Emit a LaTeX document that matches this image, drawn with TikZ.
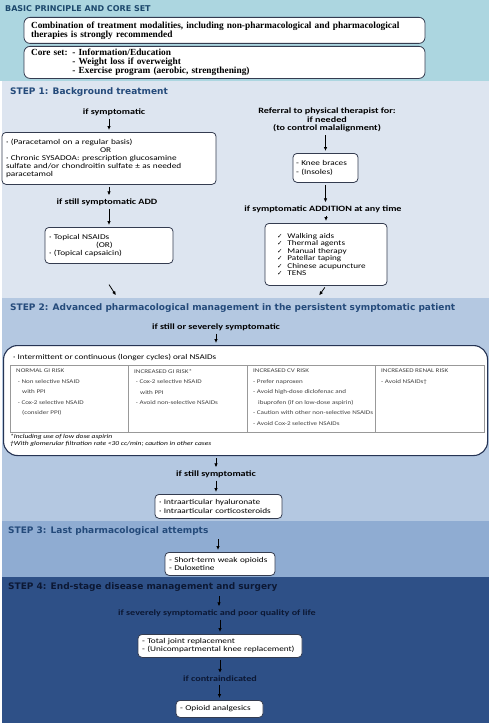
\documentclass[tikz,border=0pt]{standalone}
\usepackage{fontspec}
\setmainfont{Carlito}[FakeStretch=1.25]
\newfontfamily\headfont{DejaVu Sans}
\newfontfamily\leadfont{Liberation Serif}
\newfontfamily\symfont{DejaVu Sans}
\usepackage{xcolor}
\usetikzlibrary{arrows.meta, positioning, calc}

\definecolor{coreband}{RGB}{172,214,224}
\definecolor{oneband}{RGB}{221,229,240}
\definecolor{twoband}{RGB}{180,200,225}
\definecolor{threeband}{RGB}{143,172,210}
\definecolor{fourband}{RGB}{46,80,135}
\definecolor{coretext}{RGB}{28,72,108}
\definecolor{stepblue}{RGB}{36,74,122}
\definecolor{navy}{RGB}{12,24,52}
\definecolor{edge}{RGB}{52,60,80}
\definecolor{frame}{RGB}{38,52,84}

\newcommand{\chk}{\hspace*{8pt}{\symfont\fontsize{6.5}{7}\selectfont ✓}\hspace{5pt}}

\begin{document}
\begin{tikzpicture}[
  x=1pt, y=-1pt,
  box/.style   = {draw=edge, line width=0.8pt, rounded corners=4pt, fill=white,
                  align=left, inner xsep=4pt, inner ysep=2pt, anchor=north,
                  font=\fontsize{7.4}{8.2}\selectfont},
  lead/.style  = {box, rounded corners=6pt, inner xsep=7pt,
                  font=\leadfont\bfseries\fontsize{9.35}{8.8}\selectfont},
  cond/.style  = {align=center, inner sep=1pt,
                  font=\bfseries\fontsize{8.1}{8.4}\selectfont},
  stage/.style = {anchor=west, inner sep=0pt, text=stepblue,
                  font=\headfont\bfseries\fontsize{9}{10}\selectfont},
  cell/.style  = {anchor=north west, align=left, inner sep=0pt, text=black!75,
                  font=\fontsize{5.65}{10.5}\selectfont},
  rule/.style  = {draw=black!40, line width=0.5pt},
  arrow/.style = {-{Latex[length=4pt, width=3.6pt]}, line width=0.8pt,
                  shorten <=2pt, shorten >=2pt}
]
  \useasboundingbox (0,0) rectangle (495,725);
  \fill[coreband]  (0,0)   rectangle (489,81);
  \fill[oneband]   (2,81)  rectangle (489,298);
  \fill[twoband]   (2,298) rectangle (489,521);
  \fill[threeband] (2,521) rectangle (489,577);
  \fill[fourband]  (2,577) rectangle (489,723);

  \node[stage, text=coretext, font=\headfont\bfseries\fontsize{8}{10}\selectfont]
    (core) at (5,9) {BASIC PRINCIPLE AND CORE SET};
  \node[lead, text width=387pt, minimum height=26pt] (combo) at (224.5,17)
    {Combination of treatment modalities, including non-pharmacological and pharmacological\\
     therapies is strongly recommended};
  \node[lead, text width=387pt, minimum height=32pt] (coreset) at (224.5,46)
    {Core set: - Information/Education\\
     \phantom{Core set: }- Weight loss if overweight\\
     \phantom{Core set: }- Exercise program (aerobic, strengthening)};

  \node[stage] (s1) at (10,92) {STEP 1: Background treatment};
  \node[cond] (sym) at (114,112) {if symptomatic};
  \node[box, text width=206pt, minimum height=52pt] (para) at (109,132)
    {· (Paracetamol on a regular basis)\\
     \hspace*{94pt}OR\\
     · Chronic SYSADOA: prescription glucosamine\\
     sulfate and/or chondroitin sulfate ± as needed\\
     paracetamol};
  \node[cond] (add) at (107,202) {if still symptomatic ADD};
  \node[box, text width=120pt, minimum height=36pt] (topical) at (109,227)
    {· Topical NSAIDs\\
     \hspace*{47pt}(OR)\\
     · (Topical capsaicin)};
  \coordinate (d1a) at (108,283);
  \coordinate (d1b) at (117,297);

  \node[cond] (ref) at (327,120)
    {Referral to physical therapist for:\\if needed\\(to control malalignment)};
  \node[box, text width=59pt, minimum height=29pt, inner xsep=3pt] (brace) at (325.5,153)
    {- Knee braces\\- (Insoles)};
  \node[cond] (addn) at (323,209) {if symptomatic ADDITION at any time};
  \node[box, text width=114pt, minimum height=62pt, font=\fontsize{7.3}{7.4}\selectfont]
    (aids) at (326,223)
    {\chk Walking aids\\ \chk Thermal agents\\ \chk Manual therapy\\
     \chk Patellar taping\\ \chk Chinese acupuncture\\ \chk TENS};
  \coordinate (d2) at (318,297);

  \node[stage] (s2) at (10,308)
    {STEP 2: Advanced pharmacological management in the persistent symptomatic patient};
  \node[cond] (sev) at (216,327) {if still or severely symptomatic};
  \node[draw=frame, line width=1.1pt, rounded corners=14pt, fill=white, inner sep=0pt,
        minimum width=484pt, minimum height=110pt, anchor=north west] (nsaid) at (3,345) {};
  \node[anchor=west, inner sep=0pt, font=\fontsize{7.3}{9}\selectfont] (oral) at (13,357)
    {· Intermittent or continuous (longer cycles) oral NSAIDs};
  \node[rule, inner sep=0pt, minimum width=474pt, minimum height=67pt,
        anchor=north west] (tbl) at (10,365) {};
  \foreach \c in {118,237,365}
    \draw[rule] ($(tbl.north west)+(\c,0)$) -- ($(tbl.south west)+(\c,0)$);
  \node[cell] (gi) at (16,369)
    {NORMAL GI RISK\\
     \hspace*{2pt}· Non selective NSAID\\
     \hspace*{6pt}with PPI\\
     \hspace*{2pt}· Cox-2 selective NSAID\\
     \hspace*{6pt}(consider PPI)};
  \node[cell] (gihigh) at (134,369)
    {INCREASED GI RISK*\\
     \hspace*{2pt}· Cox-2 selective NSAID\\
     \hspace*{6pt}with PPI\\
     \hspace*{2pt}· Avoid non-selective NSAIDs};
  \node[cell] (cv) at (253,369)
    {INCREASED CV RISK\\
     - Prefer naproxen\\
     - Avoid high-dose diclofenac and\\
     \hspace*{5pt}ibuprofen (if on low-dose aspirin)\\
     - Caution with other non-selective NSAIDs\\
     - Avoid Cox-2 selective NSAIDs};
  \node[cell] (renal) at (381,369)
    {INCREASED RENAL RISK\\
     - Avoid NSAIDs†};
  \node[cell, text=black, font=\itshape\fontsize{6}{7.4}\selectfont] (foot) at (10,434)
    {*Including use of low dose aspirin\\
     †With glomerular filtration rate <30 cc/min; caution in other cases};
  \node[cond] (still) at (216,474) {if still symptomatic};
  \node[box, text width=119pt, minimum height=24pt] (inject) at (218.5,494)
    {· Intraarticular hyaluronate\\· Intraarticular corticosteroids};

  \node[stage] (s3) at (8,531) {STEP 3: Last pharmacological attempts};
  \coordinate (s3a) at (218,537);
  \node[box, text width=102pt, minimum height=23pt] (weak) at (220,552)
    {- Short-term weak opioids\\- Duloxetine};

  \node[stage, text=navy] (s4) at (8,587) {STEP 4: End-stage disease management and surgery};
  \coordinate (s4a) at (219,594);
  \node[cond, text=navy] (poor) at (217,613) {if severely symptomatic and poor quality of life};
  \node[box, text width=156pt, minimum height=23pt] (joint) at (220,634)
    {- Total joint replacement\\- (Unicompartmental knee replacement)};
  \node[cond, text=navy] (contra) at (220,679) {if contraindicated};
  \node[box, text width=79pt, minimum height=17pt] (opioid) at (219.5,700)
    {- Opioid analgesics};

  \draw[arrow] (sym.south -| para.north) -- (para.north);
  \draw[arrow] (para.south) -- (add.north -| para.south);
  \draw[arrow] (add.south -| topical.north) -- (topical.north);
  \draw[arrow] (d1a) -- (d1b);
  \draw[arrow] (ref.south -| brace.north) -- (brace.north);
  \draw[arrow] (brace.south) -- (addn.north -| brace.south);
  \draw[arrow] (addn.south -| aids.north) -- (aids.north);
  \draw[arrow] (aids.south) -- (d2);
  \draw[arrow] (sev.south) -- (sev.south |- nsaid.north);
  \draw[arrow] (still.north |- nsaid.south) -- (still.north);
  \draw[arrow] (still.south) -- (still.south |- inject.north);
  \draw[arrow] (s3a) -- (s3a |- weak.north);
  \draw[arrow] (s4a) -- (s4a |- poor.north);
  \draw[arrow] (poor.south -| joint.north) -- (joint.north);
  \draw[arrow] (joint.south) -- (contra.north -| joint.south);
  \draw[arrow] (contra.south -| opioid.north) -- (opioid.north);
\end{tikzpicture}
\end{document}
